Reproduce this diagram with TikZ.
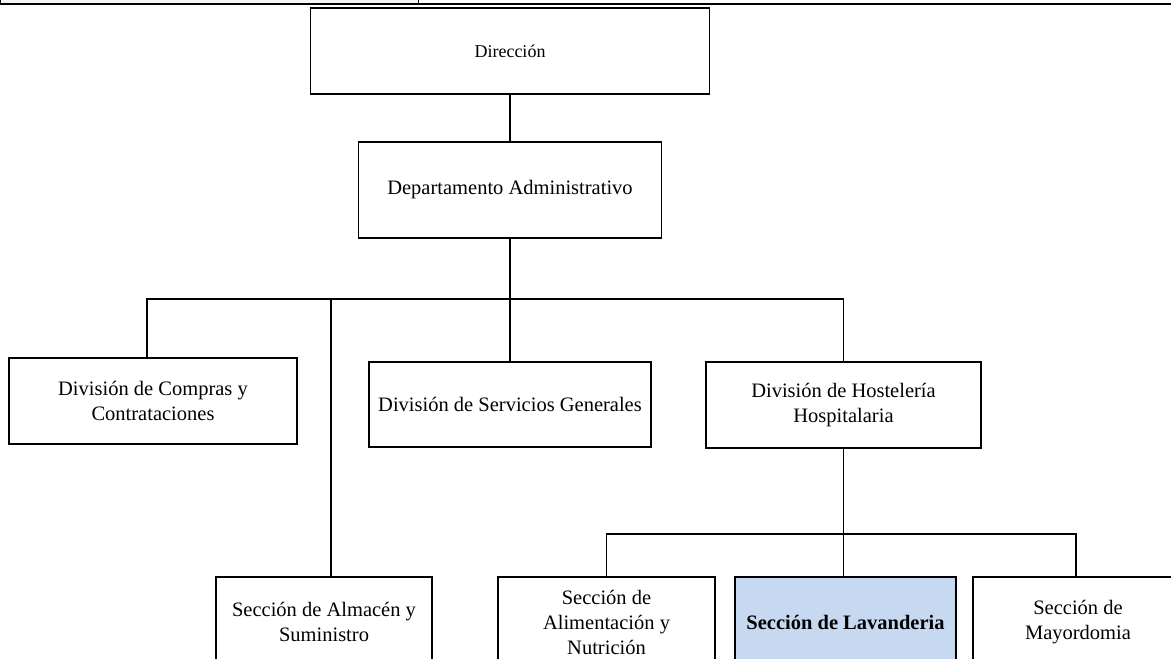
\documentclass[tikz,border=0pt]{standalone}
\usepackage{fontspec}
\setmainfont{Liberation Serif}
\definecolor{lavblue}{RGB}{198,217,241}
\begin{document}
\begin{tikzpicture}[x=0.5pt,y=-0.5pt,
    unit/.style={draw,line width=0.65pt,align=center,inner sep=0pt,
      font=\fontsize{10.25}{12.5}\selectfont},
    link/.style={line width=0.6pt}]
    \useasboundingbox (0,0) rectangle (1171,658);
    \clip (0,0) rectangle (1171,658);
    % borde de la tabla
    \fill[gray!8] (0,0) rectangle (418,3);
    \draw[line width=1pt] (0,4) -- (1171,4);
    \draw[line width=1pt] (0,0) -- (0,4);
    \draw[line width=0.5pt] (418,0) -- (418,4);
    % cajas
    \node[unit,minimum width=199.5pt,minimum height=43pt,font=\fontsize{9}{11}\selectfont] (dir) at (510,51) {Dirección};
    \node[unit,minimum width=151.5pt,minimum height=48pt] (dept) at (510,190) {Departamento Administrativo};
    \node[unit,minimum width=144pt,minimum height=43pt] (compras) at (153,401) {División de Compras y\\Contrataciones};
    \node[unit,minimum width=141pt,minimum height=42.5pt] (servicios) at (510,404.5) {División de Servicios Generales};
    \node[unit,minimum width=137.5pt,minimum height=43pt] (hosteleria) at (843.5,405) {División de Hostelería\\Hospitalaria};
    \node[unit,minimum width=108pt,minimum height=45pt] (almacen) at (324,622) {Sección de Almacén y\\Suministro};
    \node[unit,minimum width=108.5pt,minimum height=45pt] (alimentacion) at (606.5,622) {Sección de\\Alimentación y\\Nutrición};
    \node[unit,minimum width=110.5pt,minimum height=45pt,fill=lavblue] (lavanderia) at (845.5,622) {\bfseries Sección de Lavanderia};
    \node[unit,minimum width=105pt,minimum height=45pt] (mayordomia) at (1078,622) {Sección de\\Mayordomia};
    % lineas
    \coordinate (bus) at (510,299);
    \coordinate (subbus) at (843.5,534);
    \coordinate (almtop) at ([xshift=3.5pt]almacen.north);
    \draw[link] (dir.south) -- (dept.north);
    \draw[link] (dept.south) -- (servicios.north);
    \draw[link] ([xshift=-3pt]compras.north) |- (bus) -| (hosteleria.north);
    \draw[link] (almtop) -- (almtop |- bus);
    \draw[link] (hosteleria.south) -- (hosteleria.south |- lavanderia.north);
    \draw[link] (alimentacion.north) |- (subbus) -| ([xshift=-1pt]mayordomia.north);
\end{tikzpicture}
\end{document}
